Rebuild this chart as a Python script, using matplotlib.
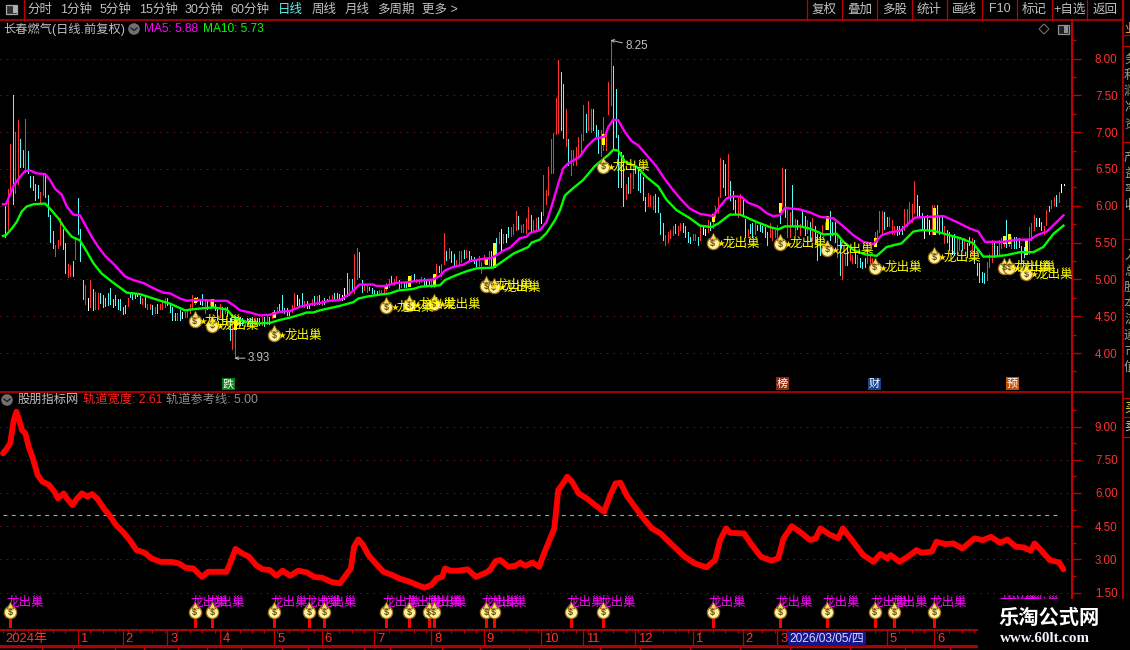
import numpy as np
import matplotlib
matplotlib.use('Agg')
import matplotlib.pyplot as plt
from matplotlib.patches import Rectangle, Circle, RegularPolygon
from matplotlib.transforms import offset_copy

plt.rcParams['font.family'] = ['Liberation Sans', 'Noto Sans CJK SC', 'DejaVu Sans']

# k-line sticks, four runs of consecutive bars
hi_a = [5.99,6.23,6.84,7.50,7.00,7.16,6.90,6.76,7.18,6.74,
        6.40,6.40,6.30,6.28,6.19,6.45,6.44,6.15,5.88,5.66,
        5.47,5.53,5.83,5.69,5.50,5.21,5.19,5.25,5.58,6.10,
        5.69,4.99,4.93,4.75,4.99,4.87,4.83,4.81,4.81,4.79,
        4.75,4.81,4.88,4.73,4.79,4.73,4.74,4.63,4.65,4.75,
        4.83,4.83,4.80,4.82,4.77,4.75,4.79,4.67,4.67,4.65,
        4.62,4.67,4.67,4.72,4.75,4.75,4.66,4.63,4.54,4.54,
        4.59,4.56,4.56,4.60,4.67,4.79,4.76,4.76,4.73,4.80,
        4.74,4.74,4.74,4.72,4.66,4.60,4.67,4.63,4.63,4.63,
        4.47,4.40,4.31,4.49,4.49,4.47,4.45,4.47,4.47,4.49,
        4.48,4.47,4.48,4.49,4.49,4.50,4.49]
lo_a = [5.58,5.68,6.21,6.03,6.17,6.30,6.53,6.53,6.46,6.44,
        6.26,6.21,6.08,6.10,6.03,6.15,6.12,5.86,5.51,5.43,
        5.32,5.43,5.47,5.41,5.08,5.03,5.04,5.04,5.28,5.62,
        5.25,4.73,4.67,4.58,4.63,4.58,4.60,4.60,4.68,4.63,
        4.64,4.65,4.67,4.63,4.65,4.60,4.59,4.53,4.55,4.64,
        4.76,4.74,4.75,4.77,4.68,4.67,4.63,4.60,4.60,4.53,
        4.55,4.55,4.60,4.60,4.63,4.65,4.56,4.45,4.45,4.45,
        4.45,4.47,4.49,4.49,4.54,4.60,4.67,4.70,4.67,4.65,
        4.54,4.60,4.65,4.63,4.58,4.45,4.49,4.45,4.54,4.50,
        4.17,4.06,3.93,4.38,4.38,4.38,4.37,4.38,4.38,4.38,
        4.39,4.38,4.38,4.38,4.37,4.40,4.40]
col_a = ("crrcrrccrc" "ccccrrcccc" "rrrccrrcrc" "ccrwrcrrcc" "cccccccccr"
         "cccwcrcrrc" "rcrrrccccr" "cwrrrrrcwc" "rcrcccrcrc" "crrcccrccc" "rccrcrc")

hi_b = [4.56,4.58,4.63,4.67,4.79,4.61,4.61,4.56,4.65,4.82,
        4.79,4.74,4.81,4.71,4.71,4.67,4.73,4.77,4.77,4.79,
        4.72,4.75,4.74,4.78,4.79,4.81,4.81,4.80,4.79,4.88,
        5.08,5.01,5.01,5.35,5.42,5.37,4.99,4.92,4.92,4.90,
        4.88,4.86,4.84,4.85,4.86,4.90,4.95,5.01,5.04,5.00,
        5.05,4.99,4.97,4.97,4.95,5.03,5.06,5.07,5.01,5.00,
        5.03,5.02,4.99,5.01,5.00,5.06,5.21,5.18,5.21,5.63,
        5.39,5.42,5.38,5.35,5.26,5.38,5.39,5.40,5.40,5.38,
        5.32,5.30,5.26,5.32,5.24,5.33,5.29,5.38,5.38,5.49,
        5.56,5.65,5.68,5.62,5.62,5.71,5.71,5.75,5.93,5.86,
        5.74,5.75,5.84,5.98]
lo_b = [4.48,4.50,4.56,4.56,4.56,4.54,4.52,4.52,4.56,4.63,
        4.65,4.63,4.65,4.63,4.61,4.61,4.65,4.65,4.67,4.67,
        4.65,4.67,4.70,4.70,4.71,4.72,4.72,4.72,4.72,4.74,
        4.77,4.79,4.86,4.81,5.00,5.03,4.83,4.85,4.83,4.85,
        4.81,4.81,4.81,4.81,4.81,4.81,4.86,4.90,4.95,4.92,
        4.97,4.88,4.90,4.90,4.89,4.92,4.97,4.99,4.97,4.95,
        4.96,4.92,4.92,4.92,4.90,4.90,5.04,5.10,5.04,5.21,
        5.27,5.29,5.24,5.17,5.20,5.21,5.24,5.29,5.30,5.26,
        5.25,5.22,5.18,5.15,5.08,5.22,5.21,5.20,5.18,5.17,
        5.33,5.49,5.40,5.49,5.51,5.58,5.59,5.62,5.67,5.69,
        5.65,5.65,5.63,5.68]
col_b = ("rcrcccccrr" "wccrccrcrc" "rccrrcccww" "crcrrccrrc" "cccrrrrrcr"
         "rcrccrrcrr" "rcwcrrrcrr" "crccrrrcrc" "cccrrrcrcc" "crwrwcrrrc" "rrrr")

hi_c = [5.87,5.80,5.83,5.85,5.91,6.42,6.22,6.53,6.91,6.99,
        7.47,7.98,7.81,7.65,7.31,6.91,6.76,6.76,6.80,6.94,
        6.98,7.37,7.25,7.42,7.31,7.32,7.10,7.03,7.03,7.20,
        7.00,7.68,8.25,7.90,7.58,6.96,6.73,6.69,6.30,6.39,
        6.44,6.57,6.55,6.51,6.44,6.39,6.12,6.17,6.14,6.13,
        6.16,6.12,5.90,5.76,5.60,5.65,5.67,5.72,5.75,5.72,
        5.76,5.76,5.72,5.65,5.58,5.62,5.62,5.58,5.72,5.72,
        5.69,5.80,5.78,5.87,6.00,6.12,6.65,6.62,6.57,6.70,
        6.34,6.20,6.08,6.10,6.16,6.08,5.82,5.69,5.75,5.76,
        5.78,5.74,5.75,5.72,5.71,5.65,5.76,5.69,5.67,5.74,
        5.92,6.51,6.50,5.94,5.92,6.28,5.82,5.80,5.75]
lo_c = [5.65,5.67,5.67,5.69,5.76,5.87,6.03,6.14,6.44,6.44,
        6.98,6.99,7.03,6.92,6.81,6.55,6.42,6.55,6.55,6.67,
        6.69,6.89,7.00,7.03,7.00,7.03,6.95,6.71,6.67,6.76,
        6.76,7.25,7.37,6.76,6.94,6.26,6.26,5.99,6.09,6.17,
        6.17,6.24,6.44,6.21,6.19,6.08,5.93,5.99,5.99,5.96,
        5.92,5.92,5.62,5.53,5.47,5.51,5.56,5.60,5.63,5.60,
        5.67,5.65,5.58,5.51,5.49,5.53,5.53,5.47,5.53,5.62,
        5.60,5.65,5.67,5.70,5.85,5.90,6.12,6.26,6.14,6.12,
        6.08,5.96,5.90,5.85,5.87,5.87,5.58,5.58,5.63,5.58,
        5.62,5.67,5.66,5.65,5.58,5.47,5.58,5.53,5.58,5.51,
        5.76,5.99,5.85,5.58,5.58,5.72,5.60,5.69,5.60]
col_c = ("crrcwrrrrr" "rrccrcrrrr" "rrcrrcccrr" "rrrcccccrc" "rrcccccrrr"
         "ccccrrrrcr" "rccccrrcrw" "wrcrrrrccr" "cccrrccrcc" "rcccccrrrr" "crcrrcrcr")

hi_d = [5.94,5.86,5.81,5.78,5.84,5.72,5.62,5.62,5.74,5.78,
        5.86,5.93,5.78,5.78,5.62,5.53,5.35,5.35,5.46,5.44,
        5.33,5.40,5.33,5.29,5.24,5.29,5.40,5.35,5.29,5.65,
        5.67,5.93,5.93,5.92,5.85,5.85,5.81,5.72,5.72,5.72,
        5.72,5.96,5.96,6.05,6.03,6.33,6.15,5.99,5.90,5.83,
        5.87,5.81,6.01,6.01,6.01,5.85,5.85,5.72,5.67,5.65,
        5.58,5.62,5.58,5.56,5.53,5.56,5.49,5.58,5.56,5.53,
        5.22,5.22,5.10,5.08,5.24,5.35,5.53,5.49,5.46,5.53,
        5.56,5.58,5.80,5.62,5.58,5.58,5.58,5.56,5.46,5.44,
        5.55,5.71,5.76,5.87,5.83,5.83,5.78,5.72,5.94,6.00,
        6.08,6.12,6.15,6.19,6.30,6.29]
lo_d = [5.74,5.60,5.63,5.53,5.53,5.49,5.26,5.33,5.62,5.69,
        5.68,5.53,5.60,5.51,5.31,5.06,5.01,5.20,5.20,5.26,
        5.22,5.22,5.17,5.17,5.15,5.17,5.22,5.22,5.15,5.45,
        5.51,5.65,5.62,5.69,5.72,5.72,5.62,5.62,5.60,5.62,
        5.62,5.67,5.72,5.76,5.78,5.90,5.85,5.85,5.67,5.56,
        5.67,5.62,5.62,5.62,5.67,5.62,5.65,5.49,5.51,5.40,
        5.35,5.33,5.35,5.40,5.40,5.42,5.31,5.47,5.35,5.22,
        5.06,4.97,4.97,4.95,4.99,5.17,5.24,5.31,5.33,5.35,
        5.42,5.45,5.44,5.45,5.42,5.42,5.42,5.44,5.22,5.31,
        5.35,5.35,5.53,5.67,5.72,5.72,5.67,5.62,5.74,5.93,
        5.97,6.01,5.99,6.05,6.19,6.28]
col_d = ("ccrcrcccrr" "rcccrcrrcr" "rcrcccrrrr" "rrrccrrrcc" "crrrrrcwcw"
         "cwrrcccrcc" "wcrrcrccrc" "ccccrrrccr" "rrcrrccccc" "rrrrcwcrrc" "rrcrww")

# yellow signal bodies
body_x = [77,84,93,109,154,163,173,194,197,241,285,312,331,350,374,402,404,411]
body_top = [4.75,4.74,4.45,4.56,4.92,5.05,5.07,5.29,5.49,6.97,5.89,6.04,5.86,5.56,5.97,5.59,5.62,5.54]
body_bot = [4.69,4.64,4.33,4.49,4.88,4.91,4.91,5.21,5.17,6.84,5.79,5.92,5.68,5.45,5.62,5.50,5.50,5.35]

# 龙出巢 marks in the price panel
bag_x = [77,84,109,154,163,173,194,197,241,285,312,331,350,374,402,404,411]
bag_y = [4.43,4.37,4.24,4.62,4.65,4.66,4.91,4.89,6.53,5.49,5.48,5.40,5.16,5.30,5.16,5.16,5.07]
# and in the lower panel
sig_x = [3,77,84,109,123,129,154,163,171,173,194,197,228,241,285,312,331,350,358,374,402,404,411]

ma5_x = [0,1.2,2.8,4.4,6.8,8.8,10.9,13.5,16.9,18.9,20.9,23.6,25.6,28.3,30.9,33,35.6,38.3,41,45,49,52.4,56.4,60.4,64.4,67.1,71.1,73.8,77.1,80.5,84.5,89.9,92.5,95.2,99.2,103.2,107.3,
         111.2,115.2,119.3,123.3,127.3,131.3,135.3,138.7,140.7,143.1,148.7,150,153.4,157.4,162.1,166.1,170.1,172.8,175.5,177.5,180.8,184.9,187.5,192.9,196.2,198.3,200.9,203.6,207.6,210.3,211.6,
         215.6,218.3,220.3,223,225,227,231.7,234.4,237.7,241.7,243.1,245.1,247.1,249.8,252.4,255.1,258.5,262.5,265.2,268.5,271.9,275.9,279.9,285.2,287.9,290.6,293.3,296.6,299.3,303.3,306.7,309.3,312,314,320,
         324.1,328.1,333.5,337.5,341.5,345.5,349.6,352.9,356.3,360.3,363,366.3,371.7,377.7,383,388.4,391.7,394.4,401.8,407.1,412.5,415.2,419.2,423.2,425.9]
ma5_y = [6.02,6.02,6.15,6.28,6.39,6.47,6.48,6.44,6.43,6.35,6.23,6.15,5.99,5.88,5.87,5.74,5.58,5.44,5.32,5.19,5.04,4.99,4.95,4.88,4.82,4.81,4.74,4.71,4.72,4.72,4.71,4.71,4.65,4.58,4.55,4.51,4.52,
         4.56,4.57,4.63,4.66,4.68,4.71,4.72,4.79,4.85,4.93,4.93,4.91,4.91,4.95,4.96,4.98,4.99,5.00,5.05,5.12,5.17,5.20,5.25,5.28,5.29,5.33,5.39,5.43,5.56,5.58,5.63,
         5.67,5.78,5.99,6.30,6.51,6.575,6.67,6.80,6.91,6.94,7.07,7.17,7.16,7.00,6.88,6.82,6.69,6.53,6.39,6.24,6.10,5.96,5.89,5.86,5.99,6.10,6.13,6.12,6.04,5.99,5.90,5.86,5.87,5.97,5.95,
         5.91,5.85,5.83,5.72,5.60,5.51,5.48,5.60,5.64,5.66,5.74,5.84,5.85,5.86,5.78,5.69,5.65,5.51,5.51,5.54,5.54,5.60,5.65,5.78,5.87]

ma10_x = [0,1.2,3.5,5.5,7.5,9.5,12.2,16.9,18.9,22.2,24.9,27.6,30.9,33.6,36.3,39.6,43.7,49.7,55,60.4,67.1,73.1,77.8,84.5,89.9,92.5,96.5,101.9,107.3,
          111.2,115.2,119.3,121.9,124.6,127.3,131.3,135.3,140.7,142.7,146.7,150.7,155.4,158.8,164.8,167.5,175.5,177.5,182.2,186.2,190.2,196.9,199.6,205,211,212.3,
          215.6,218.3,221.6,223.7,225.7,229,233,237.7,243.1,245.1,247.1,249.8,254.4,258.5,263.2,266.5,270.5,275.9,279.9,284.6,287.3,291.9,296,302.7,308,311.4,314,320,
          324.1,329.5,334.8,337.5,341.5,346.2,350.9,354.9,360.9,365.6,369,373.7,379,384.4,389.7,393.7,397.8,403.1,408.5,413.8,417.8,421.9,425.9]
ma10_y = [5.59,5.60,5.69,5.78,5.92,5.99,6.02,6.03,5.96,5.83,5.69,5.58,5.53,5.38,5.22,5.08,4.97,4.82,4.80,4.74,4.67,4.58,4.60,4.62,4.59,4.49,4.43,4.40,4.41,
          4.45,4.48,4.52,4.55,4.55,4.58,4.61,4.64,4.69,4.74,4.77,4.79,4.81,4.85,4.87,4.90,4.92,4.99,5.06,5.11,5.15,5.16,5.22,5.35,5.44,5.50,
          5.54,5.63,5.80,5.94,6.14,6.24,6.35,6.54,6.69,6.76,6.75,6.60,6.53,6.39,6.26,6.08,5.94,5.83,5.73,5.71,5.76,5.88,5.88,5.78,5.71,5.68,5.72,5.72,
          5.69,5.61,5.62,5.51,5.40,5.34,5.32,5.44,5.49,5.65,5.67,5.66,5.61,5.56,5.49,5.31,5.31,5.33,5.37,5.37,5.44,5.62,5.73]

# 轨道宽度
band_x = [0,1.5,2.9,4.3,5.4,6.5,7.6,9,10.3,12,13.9,15.8,18.5,20.7,22.1,24.3,25.7,27.9,29.8,31.7,33.9,35.8,38,40.5,42.7,45.4,48.1,50.9,53.6,56.9,59.7,63.2,67.3,70.6,73.4,76.4,79.9,82.4,86.5,89.8,
          91.2,93.4,96.1,98.8,101.6,104.3,107.1,109.8,112.3,115.3,118.6,122.1,124.9,128.2,131.7,135.3,137.2,139.7,141,142.7,144.6,146.8,149.6,152.8,156.4,159.1,163.3,166.5,169.3,172,
          174.2,176.4,177.5,179.7,183,186.6,189.9,193.4,195.6,197.8,199.7,203,205.7,207.7,209.9,212.6,215.3,217.3,219.5,221.4,223,224.9,226.6,228.5,231.2,234.5,237.8,241.4,243.6,246,
          248,250.4,253.7,257.8,260.6,264.1,267.4,271,273.7,277.8,282.5,286,288,290.4,292.1,297.6,300.3,304.4,308.5,311.3,313.5,316.8,320,324.2,326.4,328.3,331.8,335.4,337.3,341.4,
          345.5,349.6,352.4,355.1,356.5,360,363.4,366.9,368.8,373,374.9,378.4,381.7,385.3,390.2,393.5,396.8,400.4,403.4,406.7,410,412.7,414.3,416.8,420.4,424.2,425.9]
band_y = [7.79,8.00,8.24,9.29,9.67,9.29,8.84,8.69,8.09,7.56,6.81,6.51,6.36,6.05,5.75,5.98,5.75,5.45,5.75,5.98,5.83,5.95,5.72,5.30,5.00,4.55,4.25,3.87,3.42,3.30,3.04,2.89,2.89,2.82,2.62,2.59,2.21,2.44,2.44,2.44,
          2.82,3.47,3.27,3.12,2.74,2.55,2.52,2.26,2.49,2.26,2.49,2.41,2.21,2.17,1.99,1.91,2.21,2.59,3.57,3.90,3.65,3.19,2.82,2.44,2.29,2.14,1.99,1.84,1.72,1.84,
          2.14,2.21,2.59,2.49,2.49,2.55,2.21,2.37,2.52,2.92,2.97,2.67,2.71,2.85,2.71,2.86,2.67,3.27,3.87,4.40,6.13,6.43,6.73,6.51,5.98,5.75,5.45,5.15,5.83,6.43,
          6.46,5.90,5.38,4.77,4.40,4.17,3.80,3.42,3.12,2.82,2.64,2.97,3.87,4.40,4.20,4.17,3.72,3.12,2.94,3.04,3.95,4.50,4.25,3.87,3.95,4.40,4.13,3.95,4.40,3.80,
          3.19,2.89,3.24,3.04,3.19,2.89,3.12,3.42,3.30,3.35,3.80,3.69,3.72,3.49,3.95,3.87,4.02,3.75,3.90,3.57,3.54,3.39,3.72,3.42,2.97,2.86,2.55]
ref_level = 5.00

price_ticks = [4.0,4.5,5.0,5.5,6.0,6.5,7.0,7.5,8.0]
band_ticks = [1.5,3.0,4.5,6.0,7.5,9.0]

month_x = [0,30,48,66,87,109,128,149,172,193,216,233,254,277,297,311,355,374]
month_lab = ['2024年','1','2','3','4','5','6','7','8','9','10','11','12','1','2','3','5','6']
event_x = [90.6,313,350,405.4]
event_lab = ['跌','榜','财','预']
event_col = ['#0a7d14','#8a2a10','#14408c','#c2500e']

W, H = 1130, 650
RED = '#c00000'
AXR = '#ff3232'
GRID = '#8a1a1a'
GREY = '#c0c0c0'
stick_col = {'r':'#ff3232','c':'#54fcfc','w':'#ffffff'}
x0, step = 3.0, 2.49
xlim = ((0-x0)/step, (1072-x0)/step)

fig = plt.figure(figsize=(W/100, H/100), dpi=100, facecolor='black')

def px_axes(left, top, right, bottom, **kw):
    return fig.add_axes([left/W, 1-bottom/H, (right-left)/W, (bottom-top)/H], facecolor='black', **kw)

def style_axis(ax, ticks):
    ax.set_xlim(*xlim)
    ax.set_xticks([])
    ax.yaxis.tick_right()
    ax.set_yticks(ticks)
    ax.set_yticklabels(['%.2f' % t for t in ticks], color=AXR, fontsize=8.4)
    mids = [t + (ticks[1]-ticks[0])/2 for t in ticks] + [ticks[0]-(ticks[1]-ticks[0])/2]
    ax.set_yticks(mids, minor=True)
    ax.tick_params(axis='y', which='major', length=6.5, width=1, color=RED, pad=10)
    ax.tick_params(axis='y', which='minor', length=3, width=1, color=RED)
    for s in ['top','left','bottom']:
        ax.spines[s].set_visible(False)
    ax.spines['right'].set_color(RED)
    ax.spines['right'].set_linewidth(1.5)
    for t in ticks:
        ax.axhline(t, color=GRID, lw=0.8, ls=(0,(1,5)), zorder=1)

# price panel
ax = px_axes(0, 20, 1072, 391)
ax.set_ylim(3.484, 8.523)
style_axis(ax, price_ticks)
for start, hi, lo, col in [(1,hi_a,lo_a,col_a),(108,hi_b,lo_b,col_b),(212,hi_c,lo_c,col_c),(321,hi_d,lo_d,col_d)]:
    xs = np.arange(start, start+len(hi))
    ax.vlines(xs, lo, hi, colors=[stick_col[c] for c in col], lw=0.55, zorder=2, antialiased=False)
ax.vlines(body_x, body_bot, body_top, colors='#ffff00', lw=2.0, zorder=3, antialiased=False)
ax.plot(ma5_x, ma5_y, color='#ff00ff', lw=1.7, zorder=4)
ax.plot(ma10_x, ma10_y, color='#00ff00', lw=1.7, zorder=4)

def draw_bags(a, xs, ys):
    knot = offset_copy(a.transData, fig=fig, x=0, y=5, units='points')
    a.scatter(xs, ys, s=78, color='#fff0a0', edgecolors='#9a7414', linewidths=0.9, zorder=6)
    a.scatter(xs, ys, s=24, transform=knot, marker='^', color='#f4d860', edgecolors='#7a5a10', linewidths=0.5, zorder=6)
    for x, y in zip(xs, ys):
        a.text(x, y, '$', color='#6a4a08', fontsize=6.5, fontweight='bold', ha='center', va='center', zorder=7)

draw_bags(ax, bag_x, bag_y)
star = offset_copy(ax.transData, fig=fig, x=5.8, y=0, units='points')
ax.scatter(bag_x, bag_y, s=28, marker='*', color='#ffe000', transform=star, zorder=7, linewidths=0)
for x, y in zip(bag_x, bag_y):
    ax.annotate('龙出巢', (x, y), xytext=(7, 0), textcoords='offset points', color='#ffff00',
                fontsize=9, va='center', ha='left', zorder=8, annotation_clip=False)

ax.annotate('8.25', (244, 8.25), xytext=(10.5, -4.3), textcoords='offset points', color=GREY, fontsize=8.4,
            va='center', arrowprops=dict(arrowstyle='->', color=GREY, lw=0.7, shrinkA=0, shrinkB=0, mutation_scale=5))
ax.annotate('3.93', (93, 3.93), xytext=(9.5, 0), textcoords='offset points', color=GREY, fontsize=8.4,
            va='center', arrowprops=dict(arrowstyle='->', color=GREY, lw=0.7, shrinkA=0, shrinkB=0, mutation_scale=5))
for x, lab, c in zip(event_x, event_lab, event_col):
    ax.text(x, 3.584, lab, color='white', fontsize=8, ha='center', va='center', zorder=8,
            bbox=dict(facecolor=c, edgecolor='none', pad=0.8))

# 轨道 panel
ax2 = px_axes(0, 392, 1072, 630)
ax2.set_ylim(-0.19, 10.56)
style_axis(ax2, band_ticks)
ax2.plot([0, 425], [ref_level, ref_level], color='#a8a8a8', lw=0.8, ls=(0,(3.5,4)), zorder=2)
ax2.plot(band_x, band_y, color='#ff0000', lw=4.2, zorder=3, solid_joinstyle='round', solid_capstyle='round')
ax2.vlines(sig_x, -0.05, 0.38, colors='#ff0000', lw=2.0, zorder=3, antialiased=False)
draw_bags(ax2, sig_x, [0.62]*len(sig_x))
for x in sig_x:
    ax2.annotate('龙出巢', (x, 1.04), xytext=(-3, 0), textcoords='offset points', color='#ff00ff',
                 fontsize=9, va='center', ha='left', zorder=5)

# date strip
ax3 = px_axes(0, 630, 978, 646)
ax3.set_xlim(xlim[0], xlim[0] + 978/step)
ax3.set_ylim(1, 0)
ax3.set_xticks([]); ax3.set_yticks([])
for s in ['left','right']:
    ax3.spines[s].set_visible(False)
for s in ['top','bottom']:
    ax3.spines[s].set_color(RED)
    ax3.spines[s].set_linewidth(1.3)
ax3.vlines(np.arange(0, 392, 5), 0, 0.2, colors=RED, lw=0.8)
ax3.vlines(month_x[1:], 0, 1, colors=RED, lw=0.9)
for x, lab in zip(month_x, month_lab):
    ax3.annotate(lab, (x, 0.55), xytext=(2, 0), textcoords='offset points', color=AXR, fontsize=9.4, va='center', ha='left')

# toolbar, captions, side strip, watermark on one overlay in pixels
ui = fig.add_axes([0, 0, 1, 1], facecolor='none')
ui.set_xlim(0, W); ui.set_ylim(H, 0); ui.axis('off')

ui.plot([0, 1123], [19.5, 19.5], color=RED, lw=1.2)
ui.plot([0, 1123], [391.5, 391.5], color=RED, lw=1.2)
ui.plot([1122.5, 1122.5], [0, 600], color=RED, lw=1.2)
ui.plot([23.5, 23.5], [0, 19.5], color=RED, lw=1)
ui.add_patch(Rectangle((6, 5), 11, 8.5, fc='#303030', ec='#a8a8a8', lw=0.9))
ui.add_patch(Rectangle((12.5, 6), 4, 6.5, fc='#b0b0b0', ec='none'))

left_btns = [('分时',40,GREY),('1分钟',76.5,GREY),('5分钟',115.5,GREY),('15分钟',158,GREY),('30分钟',204,GREY),
             ('60分钟',250,GREY),('日线',290,'#60f0f0'),('周线',324,GREY),('月线',357.5,GREY),('多周期',396,GREY),('更多 >',439.5,GREY)]
for lab, x, c in left_btns:
    ui.text(x, 9.5, lab, color=c, fontsize=9, ha='center', va='center')
sep_x = [807,842,877,912,947,982,1017,1052,1087,1123]
right_btns = ['复权','叠加','多股','统计','画线','F10','标记','+自选','返回']
for x in sep_x:
    ui.plot([x, x], [0, 19.5], color=RED, lw=0.9)
for a, b, lab in zip(sep_x[:-1], sep_x[1:], right_btns):
    ui.text((a+b)/2, 9.5, lab, color=GREY, fontsize=9, ha='center', va='center')

ui.text(3, 29.5, '长春燃气(日线.前复权)', color=GREY, fontsize=8.8, va='center')
ui.add_patch(Circle((134, 29), 5.8, fc='#707070', ec='none'))
ui.plot([131, 134, 137], [28, 30.5, 28], color='#202020', lw=1)
ui.text(144, 29, 'MA5: 5.88', color='#ff00ff', fontsize=8.6, va='center')
ui.text(203, 29, 'MA10: 5.73', color='#00ff00', fontsize=8.6, va='center')
ui.add_patch(RegularPolygon((1044, 29), 4, radius=5, fc='none', ec='#707070', lw=0.8))
ui.add_patch(Rectangle((1058, 25), 10.5, 8.5, fc='#202020', ec='#909090', lw=0.9))
ui.add_patch(Rectangle((1064, 26), 4, 6.5, fc='#909090', ec='none'))

ui.add_patch(Circle((7, 400), 5.8, fc='#707070', ec='none'))
ui.plot([4, 7, 10], [399, 401.5, 399], color='#202020', lw=1)
ui.text(18, 400, '股朋指标网', color=GREY, fontsize=8.8, va='center')
ui.text(83, 400, '轨道宽度: 2.61', color='#ff2020', fontsize=8.8, va='center')
ui.text(166, 400, '轨道参考线: 5.00', color='#909090', fontsize=8.8, va='center')

# side strip, only the left edge of its characters shows
for y, s, c in [(30,'业','#ff9030'),(60,'务','#a0a0a0'),(76,'利','#a0a0a0'),(92,'润','#a0a0a0'),(108,'净','#a0a0a0'),
                (124,'资','#a0a0a0'),(158,'产','#a0a0a0'),(174,'益','#a0a0a0'),(190,'率','#a0a0a0'),(206,'收','#a0a0a0'),
                (256,'入','#a0a0a0'),(272,'总','#a0a0a0'),(288,'股','#a0a0a0'),(304,'本','#a0a0a0'),(320,'流','#a0a0a0'),
                (336,'通','#a0a0a0'),(352,'市','#a0a0a0'),(368,'值','#a0a0a0'),(408,'买','#e0e040'),(427,'卖','#d0d0d0')]:
    ui.text(1124, y, s, color=c, fontsize=9, va='center', ha='left', clip_on=True)
for y in [35, 46, 142, 239, 398, 417, 437]:
    ui.plot([1123, 1130], [y, y], color=RED, lw=0.9)

# date cursor
ui.add_patch(Rectangle((788, 631.5), 77.5, 14, fc='#16168c', ec='none', zorder=5))
ui.text(826.7, 638.5, '2026/03/05/四', color='#d8d8ff', fontsize=8.6, ha='center', va='center', zorder=6)

# last row, cut by the window edge
ui.plot([0, 978], [646.5, 646.5], color=RED, lw=0.9)
for x in [42,73,115,144,178,207,241,282,308,364,390,442,480,529,600,640,690,740,790,850,905,950]:
    ui.plot([x, x], [646.5, 650], color=RED, lw=0.9)

# watermark block hides what lies under it
ui.add_patch(Rectangle((978, 599), 152, 51, fc='black', ec='none', zorder=10))
ui.text(1049, 618.5, '乐淘公式网', color='white', fontsize=14.6, fontweight='bold', ha='center', va='center', zorder=11)
ui.text(1045, 638, 'www.60lt.com', color='#f0f4ff', fontsize=10.8, fontweight='bold', family='Liberation Serif',
        ha='center', va='center', zorder=11)

fig.savefig('out.png', dpi=100, facecolor='black')
